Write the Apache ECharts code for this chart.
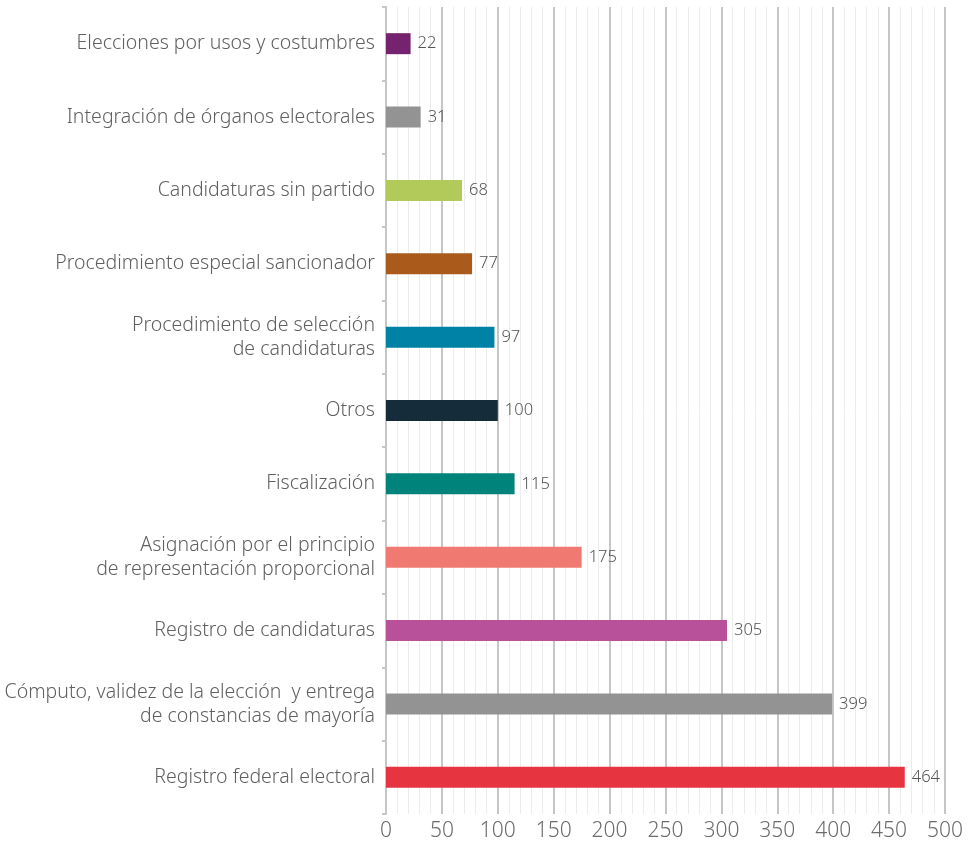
<!DOCTYPE html>
<html>
<head>
<meta charset="utf-8">
<script src="https://cdn.jsdelivr.net/npm/echarts@6/dist/echarts.min.js"></script>
<style>
html,body{margin:0;padding:0;background:#fff;}
#chart{width:968px;height:844px;}
</style>
</head>
<body>
<div id="chart"></div>
<script>
const categories = [
  "Elecciones por usos y costumbres",
  "Integración de órganos electorales",
  "Candidaturas sin partido",
  "Procedimiento especial sancionador",
  "Procedimiento de selección\nde candidaturas",
  "Otros",
  "Fiscalización",
  "Asignación por el principio\nde representación proporcional",
  "Registro de candidaturas",
  "Cómputo, validez de la elección  y entrega\nde constancias de mayoría",
  "Registro federal electoral"
];
const values = [22, 31, 68, 77, 97, 100, 115, 175, 305, 399, 464];
const colors = ["#76236f", "#939393", "#b1ca5a", "#aa5b1c", "#0082a6", "#152c3a", "#00837a", "#f07a72", "#b9509a", "#939393", "#e63541"];
const xTicks = [0, 50, 100, 150, 200, 250, 300, 350, 400, 450, 500];

const FONT = "'Noto Sans', sans-serif";
const chart = echarts.init(document.getElementById('chart'), null, {renderer: 'canvas'});
chart.setOption({
  animation: false,
  backgroundColor: '#ffffff',
  grid: {left: 386, right: 23, top: 7, bottom: 30, containLabel: false},
  xAxis: {
    type: 'value',
    min: xTicks[0],
    max: xTicks[xTicks.length - 1],
    interval: 50,
    axisLine: {show: false},
    axisTick: {show: false},
    axisLabel: {color: '#6b6b6b', fontSize: 21, fontFamily: FONT, fontWeight: 300, margin: 7},
    splitLine: {show: true, lineStyle: {color: '#c6c6c6', width: 2}},
    minorTick: {show: false, splitNumber: 5},
    minorSplitLine: {show: true, lineStyle: {color: '#ececec', width: 1}}
  },
  yAxis: {
    type: 'category',
    inverse: true,
    data: categories,
    axisLine: {show: true, lineStyle: {color: '#c6c6c6', width: 2}},
    axisTick: {show: true, length: 4, lineStyle: {color: '#c6c6c6', width: 2}},
    axisLabel: {color: '#5f5f5f', fontSize: 19.5, fontFamily: FONT, fontWeight: 300, margin: 11, lineHeight: 24, align: 'right'}
  },
  series: [{
    type: 'bar',
    barWidth: 21,
    data: values.map((v, i) => ({value: v, itemStyle: {color: colors[i]}})),
    label: {
      show: true,
      position: 'right',
      distance: 7,
      color: '#555555',
      fontSize: 16.5,
      fontFamily: FONT,
      fontWeight: 300
    }
  }]
});
</script>
</body>
</html>
